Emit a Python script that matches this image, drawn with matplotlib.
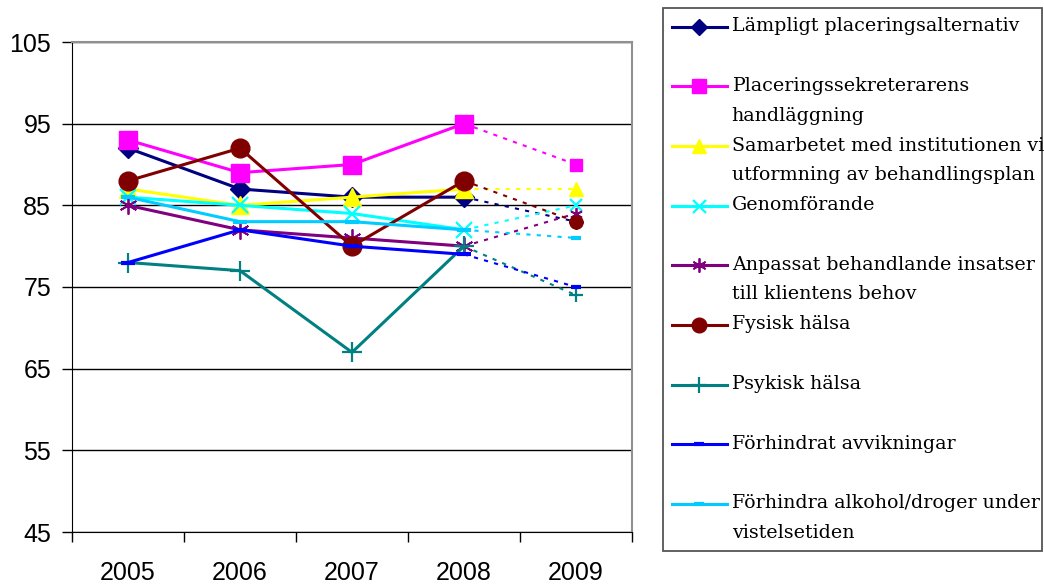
import numpy as np
import matplotlib
matplotlib.use("Agg")
import matplotlib.pyplot as plt
from matplotlib.lines import Line2D
from matplotlib.legend_handler import HandlerLine2D

# Data
years = ['2005', '2006', '2007', '2008', '2009']
names = [
    'Lämpligt placeringsalternativ',
    'Placeringssekreterarens\nhandläggning',
    'Samarbetet med institutionen vi\nutformning av behandlingsplan',
    'Genomförande',
    'Anpassat behandlande insatser\ntill klientens behov',
    'Fysisk hälsa',
    'Psykisk hälsa',
    'Förhindrat avvikningar',
    'Förhindra alkohol/droger under\nvistelsetiden',
]
lamplig = [92, 87, 86, 86, 83]
placering = [93, 89, 90, 95, 90]
samarbete = [87, 85, 86, 87, 87]
genomforande = [86, 85, 84, 82, 85]
anpassat = [85, 82, 81, 80, 84]
fysisk = [88, 92, 80, 88, 83]
psykisk = [78, 77, 67, 80, 74]
avvikningar = [78, 82, 80, 79, 75]
alkohol = [86, 83, 83, 82, 81]

series = [lamplig, placering, samarbete, genomforande, anpassat,
          fysisk, psykisk, avvikningar, alkohol]

# style per series: colour, marker, markersize, marker edge width
styles = [
    ('#000080', 'D', 10, 1),
    ('#FF00FF', 's', 13, 1),
    ('#FFFF00', '^', 13.5, 1),
    ('#00FFFF', 'x', 12, 1.6),
    ('#800080', (6, 2, 0), 13, 1.3),
    ('#800000', 'o', 13.5, 1),
    ('#008080', '+', 14, 1.6),
    ('#0000FF', '_', 10, 3),
    ('#00CCFF', '_', 10, 3),
]


class RaisedLine(HandlerLine2D):
    # put the legend sample next to the first text line
    def __init__(self, shift, **kw):
        super().__init__(**kw)
        self.shift = shift

    def create_artists(self, legend, orig_handle, xdescent, ydescent,
                       width, height, fontsize, trans):
        arts = super().create_artists(legend, orig_handle, xdescent, ydescent,
                                      width, height, fontsize, trans)
        for a in arts:
            a.set_ydata(np.asarray(a.get_ydata()) + self.shift)
        return arts


fig = plt.figure(figsize=(10.44, 5.87), dpi=100)
ax = fig.add_axes([72/1044, 55/587, 560/1044, 490/587])

x = np.arange(len(years))
handles = []
for vals, (col, mk, ms, mew) in zip(series, styles):
    # solid 2005-2008
    ax.plot(x[:4], vals[:4], color=col, lw=2.2, marker=mk, ms=ms,
            mec=col, mfc=col, mew=mew, solid_joinstyle='round')
    # dotted link to 2009
    ax.plot(x[3:], vals[3:], color=col, lw=1.5, ls=(0, (2, 3)))
    ax.plot(x[4:], vals[4:], ls='none', marker=mk, ms=ms*0.7,
            mec=col, mfc=col, mew=mew)
    handles.append(Line2D([], [], color=col, lw=2.2, marker=mk, ms=ms*0.78,
                          mec=col, mfc=col, mew=mew))

ax.set_xlim(-0.5, 4.5)
ax.set_ylim(45, 105)
ax.set_yticks(np.arange(45, 106, 10))
ax.yaxis.grid(True, color='black', lw=1)
ax.set_axisbelow(True)

# ticks between categories, labels at the centres
ax.set_xticks(np.arange(-0.5, 5, 1))
ax.set_xticklabels([])
ax.set_xticks(x, minor=True)
ax.set_xticklabels(years, minor=True)
ax.tick_params(axis='x', which='major', direction='out', length=7, width=1)
ax.tick_params(axis='x', which='minor', length=0, pad=21, labelsize=18)
ax.tick_params(axis='y', direction='out', length=7, width=1, pad=8,
               labelsize=18)
for lab in ax.get_xticklabels(minor=True) + ax.get_yticklabels():
    lab.set_fontfamily('Liberation Sans')

ax.spines['left'].set_color('black')
ax.spines['bottom'].set_color('black')
ax.spines['top'].set_color('#909090')
ax.spines['right'].set_color('#909090')
ax.spines['top'].set_linewidth(1.5)
ax.spines['right'].set_linewidth(1.5)

labels = [n if '\n' in n else n + '\n' for n in names]
leg = fig.legend(handles, labels, loc='upper left',
                 bbox_to_anchor=(663/1044, 1 - 8/587, 379/1044, 0),
                 mode='expand', borderaxespad=0, fancybox=False,
                 framealpha=1, edgecolor='#555555',
                 prop={'family': 'DejaVu Serif', 'size': 13.7},
                 handlelength=2.85, handletextpad=0.27, borderpad=0.49,
                 labelspacing=0.63,
                 handler_map={Line2D: RaisedLine(10.5, numpoints=1)})
leg.get_frame().set_linewidth(1.3)
for t in leg.get_texts():
    t.set_linespacing(1.83)
    # long label is cut at the legend border, as in the original
    t.set_clip_path(leg.legendPatch)

fig.savefig('out.png', dpi=100)
